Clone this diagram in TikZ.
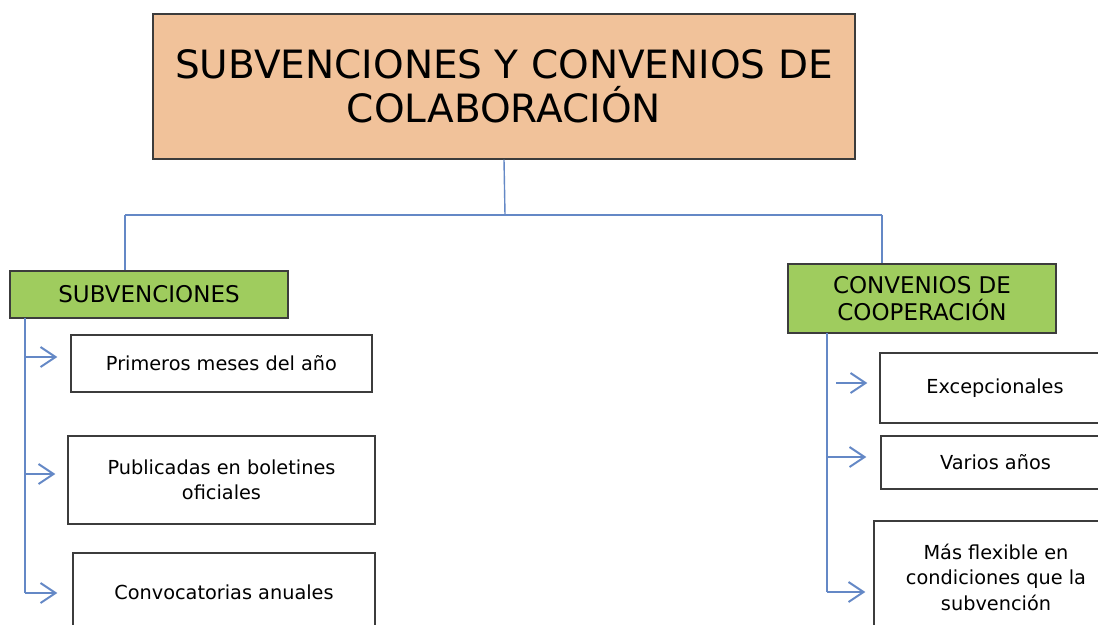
\documentclass[tikz,border=0pt]{standalone}
\usepackage{fontspec}
\setmainfont{DejaVu Sans}
\usetikzlibrary{arrows.meta}
\definecolor{peach}{HTML}{F1C29A}
\definecolor{leaf}{HTML}{9FCC5E}
\definecolor{link}{HTML}{6488C6}
\definecolor{edge}{HTML}{3C3C3C}
\tikzset{
  box/.style={draw=edge, line width=1.3pt, inner sep=0pt, align=center, text=black},
  titlebox/.style={box, fill=peach, font=\fontsize{39}{44}\selectfont},
  catbox/.style={box, fill=leaf, font=\fontsize{23}{27}\selectfont},
  leafbox/.style={box, fill=white, font=\fontsize{19.3}{25.5}\selectfont},
  conn/.style={draw=link, line width=1.4pt},
  arr/.style={conn, -{Straight Barb[length=15pt,width=20pt,line width=2pt]}}
}
\begin{document}
\begin{tikzpicture}[x=1pt,y=-1pt]
\useasboundingbox (0,0) rectangle (1098,624);
\clip (0,0) rectangle (1098,624);
\fill[white] (0,0) rectangle (1098,624);
% nodes
\node[titlebox, minimum width=702pt, minimum height=145pt] (title) at (504,86.5)
  {SUBVENCIONES Y CONVENIOS DE\\COLABORACIÓN};
\node[catbox, minimum width=278pt, minimum height=47pt] (subv) at (149,294.5) {SUBVENCIONES};
\node[catbox, minimum width=268pt, minimum height=69pt] (conv) at (922,298.5) {CONVENIOS DE\\COOPERACIÓN};
\node[leafbox, minimum width=301pt, minimum height=57pt] (a1) at (221.5,363.5) {Primeros meses del año};
\node[leafbox, minimum width=307pt, minimum height=88pt] (a2) at (221.5,480) {Publicadas en boletines\\oficiales};
\node[leafbox, minimum width=302pt, minimum height=78pt] (a3) at (224,592) {Convocatorias anuales};
\node[leafbox, minimum width=230pt, minimum height=70pt] (b1) at (995,388) {Excepcionales};
\node[leafbox, minimum width=229pt, minimum height=53pt] (b2) at (995.5,462.5) {Varios años};
\node[leafbox, minimum width=244pt, minimum height=112pt] (b3) at (996,577) {Más flexible en\\condiciones que la\\subvención};
% tree connectors
\coordinate (hub) at (505,215);
\coordinate (hl) at (125,215);
\coordinate (hr) at (882,215);
\draw[conn] (title.south) -- (hub);
\draw[conn] (hl) -- (hr);
\draw[conn] (hl) -- (hl|-subv.north);
\draw[conn] (hr) -- (hr|-conv.north);
% left trunk
\coordinate (lt) at (25,318);
\coordinate (l1) at (25,357);
\coordinate (l2) at (25,474);
\coordinate (l3) at (25,593);
\draw[conn] (lt) -- (l3);
\draw[arr, shorten >=13pt] (l1) -- (a1.west|-l1);
\draw[arr, shorten >=12pt] (l2) -- (a2.west|-l2);
\draw[arr, shorten >=15pt] (l3) -- (a3.west|-l3);
% right trunk
\coordinate (rt) at (827,333);
\coordinate (r1) at (836,383);
\coordinate (r2) at (827,457);
\coordinate (r3) at (827,592);
\draw[conn] (rt) -- (r3);
\draw[arr, shorten >=12pt] (r1) -- (b1.west|-r1);
\draw[arr, shorten >=14pt] (r2) -- (b2.west|-r2);
\draw[arr, shorten >=8pt] (r3) -- (b3.west|-r3);
\end{tikzpicture}
\end{document}
